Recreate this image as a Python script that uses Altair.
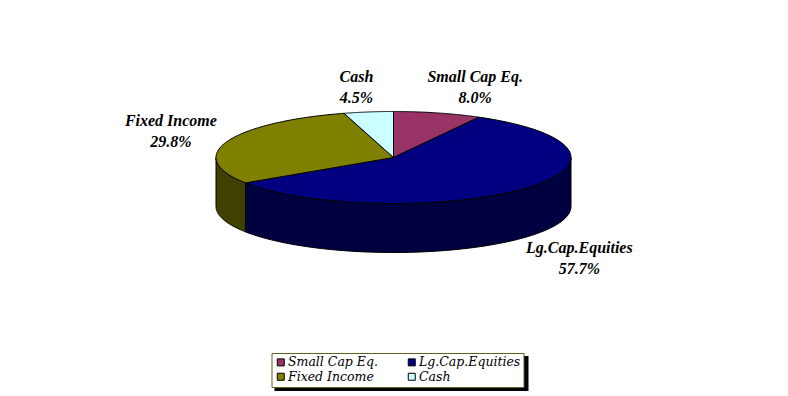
import altair as alt
import pandas as pd

# ---- data ----
categories = ["Small Cap Eq.", "Lg.Cap.Equities", "Fixed Income", "Cash"]
shares = [8.0, 57.7, 29.8, 4.5]
top_colors = ["#993366", "#000080", "#808000", "#CCFFFF"]
side_colors = ["#4C1933", "#000040", "#404000", "#668080"]

# ---- layout (chart pixel space) ----
N = 90
CX, CY = 385.5, 149.5
RX, RY = 177.5, 46.0
DEPTH = 49.0
D = DEPTH / RY
label_rx, label_ry = 1.42, 1.5
label_nudge_x = [19, 0.5, 14, -1.5]
label_nudge_y = [-14, -5.5, -12.3, -12.5]
SERIF = "'Liberation Serif', 'Times New Roman', Times, serif"
LEGEND_FONT = "'DejaVu Serif', serif"

df = pd.DataFrame({
    "category": categories,
    "share": shares,
    "idx": list(range(len(categories))),
    "side": side_colors,
    "nx": label_nudge_x,
    "ny": label_nudge_y,
})

xs = alt.Scale(domain=[-1, 1], range=[CX - RX, CX + RX], nice=False, zero=False)
ys = alt.Scale(domain=[-1, 1], range=[CY + RY, CY - RY], nice=False, zero=False)

base = (
    alt.Chart(df)
    .transform_joinaggregate(total="sum(share)")
    .transform_window(cum="sum(share)", sort=[alt.SortField("idx", order="ascending")], frame=[None, 0])
    .transform_calculate(
        a1="(datum.cum - datum.share) / datum.total * 360",
        a2="datum.cum / datum.total * 360",
    )
)

# side walls (front half only)
walls = (
    base.transform_calculate(w1="max(datum.a1, 90)", w2="min(datum.a2, 270)")
    .transform_filter("datum.w1 < datum.w2")
    .transform_calculate(steps=f"sequence(0, {2 * N + 3})")
    .transform_flatten(["steps"])
    .transform_calculate(
        t=f"(datum.steps <= {N} ? datum.w1 + (datum.w2 - datum.w1) * datum.steps / {N} : "
          f"(datum.steps <= {2 * N + 1} ? datum.w2 - (datum.w2 - datum.w1) * (datum.steps - {N + 1}) / {N} : datum.w1)) * PI / 180"
    )
    .transform_calculate(
        px="sin(datum.t)",
        py=f"cos(datum.t) - ((datum.steps > {N} && datum.steps <= {2 * N + 1}) ? {D} : 0)",
    )
    .mark_line(filled=True, stroke="black", strokeWidth=1, strokeJoin="round")
    .encode(
        x=alt.X("px:Q", scale=xs, axis=None),
        y=alt.Y("py:Q", scale=ys, axis=None),
        order=alt.Order("steps:Q"),
        color=alt.Color("side:N", scale=None, legend=None),
        detail="category:N",
    )
)

# top faces
tops = (
    base.transform_calculate(steps=f"sequence(0, {N + 3})")
    .transform_flatten(["steps"])
    .transform_calculate(
        t=f"(datum.a1 + (datum.a2 - datum.a1) * clamp(datum.steps - 1, 0, {N}) / {N}) * PI / 180"
    )
    .transform_calculate(
        px=f"(datum.steps == 0 || datum.steps == {N + 2}) ? 0 : sin(datum.t)",
        py=f"(datum.steps == 0 || datum.steps == {N + 2}) ? 0 : cos(datum.t)",
    )
    .mark_line(filled=True, stroke="black", strokeWidth=1, strokeJoin="round")
    .encode(
        x=alt.X("px:Q", scale=xs, axis=None),
        y=alt.Y("py:Q", scale=ys, axis=None),
        order=alt.Order("steps:Q"),
        color=alt.Color(
            "category:N",
            scale=alt.Scale(domain=categories, range=top_colors),
            legend=alt.Legend(
                title=None, orient="none", legendX=263.5, legendY=345, columns=2,
                direction="horizontal",
                symbolType="square", symbolSize=49, symbolStrokeColor="black",
                symbolStrokeWidth=1, symbolOpacity=1,
                labelFont=LEGEND_FONT, labelFontStyle="italic", labelFontSize=12.5,
                labelColor="black", labelOffset=1, padding=3,
                fillColor="white", strokeColor="#606020",
                rowPadding=1.5, columnPadding=27,
            ),
        ),
    )
)

labels = (
    base.transform_calculate(mid="(datum.a1 + datum.a2) / 2 * PI / 180")
    .transform_calculate(
        lx=f"{label_rx} * sin(datum.mid) + datum.nx / {RX}",
        ly=f"{label_ry} * cos(datum.mid) - (cos(datum.mid) < 0 ? {D} : 0) - datum.ny / {RY}",
        label="datum.category + '\\n' + format(datum.share, '.1f') + '%'",
    )
    .mark_text(
        font=SERIF, fontStyle="italic", fontWeight="bold", fontSize=16,
        lineBreak="\n", lineHeight=21, align="center", baseline="middle", color="black",
    )
    .encode(
        x=alt.X("lx:Q", scale=xs, axis=None),
        y=alt.Y("ly:Q", scale=ys, axis=None),
        text="label:N",
    )
)

shadow = (
    alt.Chart(pd.DataFrame({"s": [0]}))
    .mark_rect(color="black")
    .encode(x=alt.value(266.5), x2=alt.value(520.5), y=alt.value(348), y2=alt.value(383))
)

chart = (
    alt.layer(walls, tops, labels, shadow)
    .resolve_scale(color="independent")
    .properties(width=772, height=388, padding=0, autosize="none", background="white")
    .configure_view(strokeWidth=0)
)

chart.save("out.html", embed_options={"renderer": "svg", "actions": False})
